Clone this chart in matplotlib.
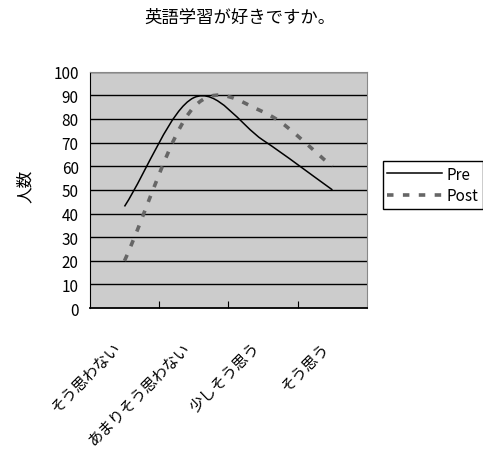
import matplotlib
matplotlib.use("Agg")
import matplotlib.pyplot as plt
from matplotlib.path import Path
from matplotlib.patches import PathPatch
from matplotlib.lines import Line2D

plt.rcParams['font.family'] = ['Noto Sans CJK JP', 'DejaVu Sans']

categories = ["そう思わない", "あまりそう思わない", "少しそう思う", "そう思う"]
pre = [43, 89, 71, 50]
post = [20, 85, 83, 60]
yticks = [0, 10, 20, 30, 40, 50, 60, 70, 80, 90, 100]


def smooth_path(ys):
    # Excel style smoothed line: bezier through each point
    xs = list(range(len(ys)))
    n = len(ys)
    tang = []
    for i in range(n):
        if i == 0:
            tang.append(ys[1] - ys[0])
        elif i == n - 1:
            tang.append(ys[-1] - ys[-2])
        else:
            tang.append((ys[i + 1] - ys[i - 1]) / 2)
    verts = [(xs[0], ys[0])]
    codes = [Path.MOVETO]
    for i in range(n - 1):
        verts.append((xs[i] + 1 / 3, ys[i] + tang[i] / 3))
        verts.append((xs[i + 1] - 1 / 3, ys[i + 1] - tang[i + 1] / 3))
        verts.append((xs[i + 1], ys[i + 1]))
        codes += [Path.CURVE4] * 3
    return Path(verts, codes)


fig = plt.figure(figsize=(4.83, 4.60), dpi=100)
ax = fig.add_axes([0.186, 0.328, 0.574, 0.514])
ax.set_facecolor("#CCCCCC")

for v in yticks[1:]:
    ax.axhline(v, color="black", lw=1.0, zorder=1)

ax.add_patch(PathPatch(smooth_path(pre), fill=False, edgecolor="black",
                       lw=1.1, zorder=3))
ax.add_patch(PathPatch(smooth_path(post), fill=False, edgecolor="#666666",
                       lw=2.6, linestyle=(0, (1.8, 2.6)), zorder=3))

ax.set_xlim(-0.5, 3.5)
ax.set_ylim(0, 100)
ax.set_yticks(yticks)
ax.set_yticklabels([str(v) for v in yticks], fontsize=11)
ax.tick_params(axis="y", length=0, pad=8)

ax.set_xticks([0.5, 1.5, 2.5])
ax.set_xticklabels([])
ax.set_xticks(range(4), minor=True)
ax.set_xticklabels(categories, minor=True, rotation=45, ha="right",
                   va="top", fontsize=11)
ax.tick_params(axis="x", which="major", direction="in", length=5,
               color="black")
ax.tick_params(axis="x", which="minor", length=0, pad=22)

ax.spines["left"].set_color("black")
ax.spines["bottom"].set_color("black")
ax.spines["bottom"].set_linewidth(1.3)
ax.spines["top"].set_color("#888888")
ax.spines["right"].set_color("#888888")

fig.text(0.497, 0.962, "英語学習が好きですか。", ha="center", va="center",
         fontsize=12.5)
fig.text(0.052, 0.594, "人数", ha="center", va="center", rotation=90,
         fontsize=12)

handles = [Line2D([], [], color="black", lw=1.1),
           Line2D([], [], color="#666666", lw=2.6, linestyle=(0, (1.8, 2.6)))]
fig.legend(handles, ["Pre", "Post"], loc="upper left",
           bbox_to_anchor=(0.792, 0.648), fontsize=11, frameon=True,
           fancybox=False, edgecolor="black", framealpha=1,
           handlelength=3.6, handletextpad=0.3, borderpad=0.3,
           labelspacing=0.3, borderaxespad=0)

fig.savefig("out.png", dpi=100)
